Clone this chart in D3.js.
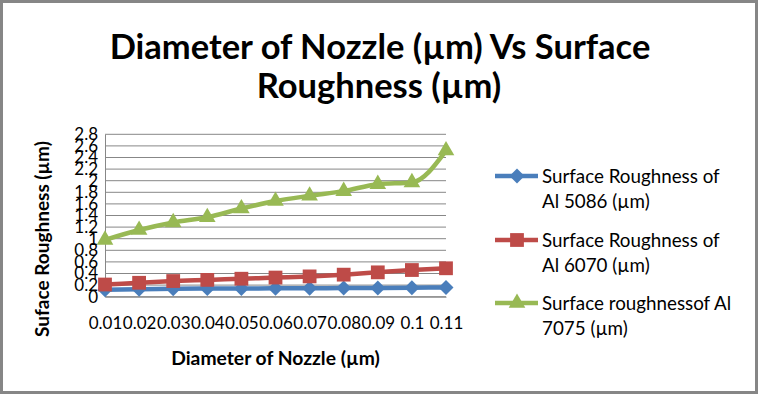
<!DOCTYPE html>
<html>
<head>
<meta charset="utf-8">
<script src="https://cdn.jsdelivr.net/npm/d3@7"></script>
<style>
  body { margin: 0; background: #fff; }
  text { font-family: Lato, "Open Sans", sans-serif; fill: #000; }
</style>
</head>
<body>
<div id="wrapper"></div>
<script>
const categories = ["0.01", "0.02", "0.03", "0.04", "0.05", "0.06", "0.07", "0.08", "0.09", "0.1", "0.11"];
const al5086 = [0.12, 0.13, 0.135, 0.14, 0.14, 0.145, 0.145, 0.15, 0.15, 0.155, 0.16];
const al6070 = [0.21, 0.24, 0.27, 0.29, 0.31, 0.33, 0.35, 0.38, 0.42, 0.46, 0.49];
const al7075 = [0.98, 1.15, 1.28, 1.37, 1.52, 1.65, 1.74, 1.82, 1.94, 1.97, 2.52];
const yTicks = [0, 0.2, 0.4, 0.6, 0.8, 1, 1.2, 1.4, 1.6, 1.8, 2, 2.2, 2.4, 2.6, 2.8];
const seriesNames = [
    ["Surface Roughness of", "Al 5086 (\u00b5m)"],
    ["Surface Roughness of", "Al 6070 (\u00b5m)"],
    ["Surface roughnessof Al", "7075 (\u00b5m)"]
];

function buildPlot() {
    const dimension = {
        width: 758,
        height: 394,
        plot: { left: 105, right: 446, top: 134.3, bottom: 296.7 }
    };

    const svg = d3.select("#wrapper").append("svg")
        .attr("width", dimension.width)
        .attr("height", dimension.height);

    svg.append("rect")
        .attr("x", 1.5).attr("y", 1.5)
        .attr("width", dimension.width - 3).attr("height", dimension.height - 3)
        .attr("fill", "#fff")
        .attr("stroke", "#868686")
        .attr("stroke-width", 3);

    const xScaler = d3.scalePoint()
        .domain(categories)
        .range([dimension.plot.left, dimension.plot.right]);
    const yScaler = d3.scaleLinear()
        .domain([0, 2.8])
        .range([dimension.plot.bottom, dimension.plot.top]);

    // grid lines
    svg.append("g")
        .selectAll("line")
        .data(yTicks)
        .enter()
        .append("line")
        .attr("x1", dimension.plot.left)
        .attr("x2", dimension.plot.right)
        .attr("y1", d => yScaler(d))
        .attr("y2", d => yScaler(d))
        .attr("stroke", "#878787")
        .attr("stroke-width", 1);

    // axes, no tick marks
    const yAxis = svg.append("g")
        .attr("transform", `translate(${dimension.plot.left},0)`)
        .call(d3.axisLeft(yScaler).tickValues(yTicks).tickSize(0).tickPadding(7)
            .tickFormat(d3.format(".1~f")));
    const xAxis = svg.append("g")
        .attr("transform", `translate(0,${dimension.plot.bottom})`)
        .call(d3.axisBottom(xScaler).tickSize(0).tickPadding(20));
    [yAxis, xAxis].forEach(a => {
        a.select(".domain").attr("stroke", "#878787");
        a.selectAll("text")
            .style("font-family", "Lato, sans-serif")
            .style("font-size", "17px")
            .attr("fill", "#000");
    });

    // axis titles
    svg.append("text")
        .attr("x", (dimension.plot.left + dimension.plot.right) / 2)
        .attr("y", 365)
        .attr("text-anchor", "middle")
        .style("font-size", "19.3px")
        .style("font-weight", "bold")
        .text("Diameter of Nozzle (\u00b5m)");

    svg.append("text")
        .attr("transform", "translate(49,239) rotate(-90)")
        .attr("text-anchor", "middle")
        .style("font-size", "19px")
        .style("font-weight", "bold")
        .text("Suface Roughness (\u00b5m)");

    // title
    const title = svg.append("text")
        .attr("text-anchor", "middle")
        .style("font-size", "34.5px")
        .style("font-weight", "bold");
    title.append("tspan").attr("x", 380).attr("y", 59).text("Diameter of Nozzle (\u00b5m) Vs Surface");
    title.append("tspan").attr("x", 379).attr("y", 98).text("Roughness (\u00b5m)");

    const series = [
        { values: al5086, color: "#4a7ebb", symbol: d3.symbolSquare, size: 112, rotate: 45 },
        { values: al6070, color: "#be4b48", symbol: d3.symbolSquare, size: 190, rotate: 0 },
        { values: al7075, color: "#98b954", symbol: d3.symbolTriangle, size: 120, rotate: 0 }
    ];

    const line = d3.line()
        .x((d, i) => xScaler(categories[i]))
        .y(d => yScaler(d))
        .curve(d3.curveMonotoneX);

    series.forEach(s => {
        svg.append("path")
            .datum(s.values)
            .attr("fill", "none")
            .attr("stroke", s.color)
            .attr("stroke-width", 4.5)
            .attr("stroke-linejoin", "round")
            .attr("d", line);

        svg.append("g")
            .selectAll("path")
            .data(s.values)
            .enter()
            .append("path")
            .attr("fill", s.color)
            .attr("d", d3.symbol().type(s.symbol).size(s.size))
            .attr("transform", (d, i) =>
                `translate(${xScaler(categories[i])},${yScaler(d)}) rotate(${s.rotate})`);
    });

    // legend
    const legendY = [176, 240, 303];
    series.forEach((s, i) => {
        const g = svg.append("g").attr("transform", `translate(0,${legendY[i]})`);
        g.append("line")
            .attr("x1", 495).attr("x2", 538)
            .attr("stroke", s.color)
            .attr("stroke-width", 4.5);
        g.append("path")
            .attr("fill", s.color)
            .attr("d", d3.symbol().type(s.symbol).size(s.size))
            .attr("transform", `translate(517,0) rotate(${s.rotate})`);
        g.selectAll("text")
            .data(seriesNames[i])
            .enter()
            .append("text")
            .attr("x", 542)
            .attr("y", (d, j) => j * 25.5 + 6.5)
            .style("font-size", "18.8px")
            .text(d => d);
    });
}

buildPlot();
</script>
</body>
</html>
